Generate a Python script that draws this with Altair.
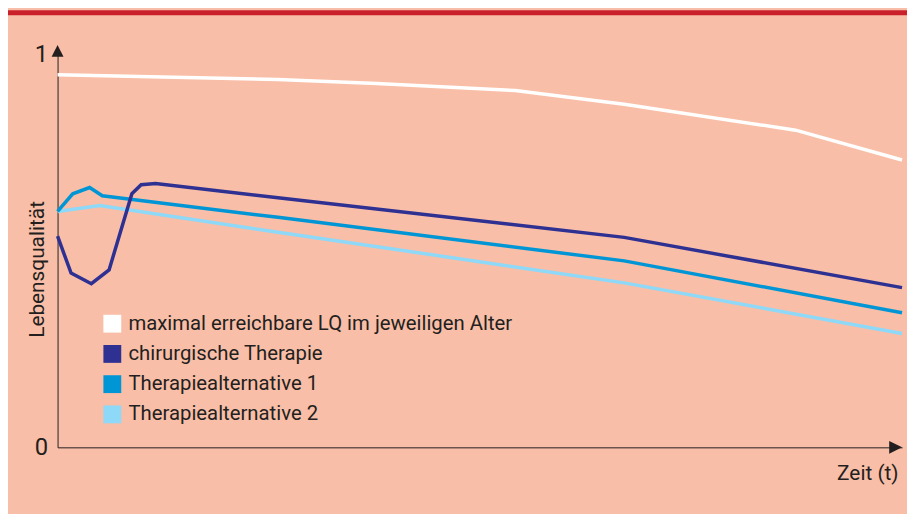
import altair as alt
import pandas as pd

# ---- data ----
series_names = [
    "maximal erreichbare LQ im jeweiligen Alter",
    "chirurgische Therapie",
    "Therapiealternative 1",
    "Therapiealternative 2",
]
series_colors = ["#FFFFFF", "#2E3192", "#0096D6", "#8ED8F8"]

t_white = [0, 26.1, 37.8, 54.2, 67.1, 87.4, 100]
v_white = [0.949, 0.937, 0.927, 0.909, 0.874, 0.808, 0.732]

t_chir = [0, 1.6, 4.0, 6.1, 8.8, 9.9, 11.6, 26.1, 67.1, 100]
v_chir = [0.538, 0.444, 0.417, 0.452, 0.646, 0.669, 0.672, 0.636, 0.535, 0.407]

t_alt1 = [0, 1.8, 3.8, 5.3, 26.1, 67.1, 100]
v_alt1 = [0.601, 0.646, 0.662, 0.641, 0.586, 0.475, 0.343]

t_alt2 = [0, 5.0, 26.1, 67.1, 100]
v_alt2 = [0.601, 0.616, 0.548, 0.419, 0.290]

y_tick_values = [0, 1]
y_title = "Lebensqualität"
x_title = "Zeit (t)"

# arrow heads at the axis ends (data coordinates)
arrow_t = [0, 99.24]
arrow_v = [1.0101, 0]
arrow_shape = ["M0,-1L1,1L-1,1Z", "M1,0L-1,-1L-1,1Z"]
arrow_size = [144, 169]

BG = "#F9BEA7"
RED = "#C9202C"
TEXT = "#231F20"
FONT = "Roboto"
FS = 21

rows = []
for name, ts, vs, z in [
    (series_names[0], t_white, v_white, 0),
    (series_names[3], t_alt2, v_alt2, 1),
    (series_names[2], t_alt1, v_alt1, 2),
    (series_names[1], t_chir, v_chir, 3),
]:
    col = series_colors[series_names.index(name)]
    for t, v in zip(ts, vs):
        rows.append({"serie": name, "t": t, "v": v, "z": z, "col": col})
df = pd.DataFrame(rows)

xscale = alt.Scale(domain=[0, 100], nice=False, zero=False)
yscale = alt.Scale(domain=[0, 1], nice=False)

lines = alt.Chart(df).mark_line(strokeWidth=3.5, strokeCap="butt").encode(
    x=alt.X("t:Q", scale=xscale,
            axis=alt.Axis(labels=False, ticks=False, grid=False, domainColor=TEXT,
                          domainWidth=1, title=x_title, titleX=848, titleY=32,
                          titleAlign="right", titleBaseline="alphabetic",
                          titleFontSize=FS, titleFontWeight="normal", titleFont=FONT,
                          titleColor=TEXT, titleAngle=0)),
    y=alt.Y("v:Q", scale=yscale,
            axis=alt.Axis(values=y_tick_values, ticks=False, grid=False, domainColor=TEXT,
                          domainWidth=1, format="d", labelFontSize=24, labelFont=FONT,
                          labelColor=TEXT, labelPadding=10, title=y_title,
                          titleFontSize=FS, titleFontWeight="normal", titleFont=FONT,
                          titleColor=TEXT, titleX=-14, titleY=216, titleAngle=270,
                          titleAlign="center", titleBaseline="alphabetic")),
    color=alt.Color("col:N", scale=None),
    detail="z:O",
    order="z:Q",
)

# legend source: zero-size squares carrying the series colour scale
legend_df = pd.DataFrame({"serie": series_names, "t": [0] * 4, "v": [0] * 4})
legend_layer = alt.Chart(legend_df).mark_square(size=0, opacity=1).encode(
    x=alt.X("t:Q", scale=xscale),
    y=alt.Y("v:Q", scale=yscale),
    color=alt.Color("serie:N",
                    scale=alt.Scale(domain=series_names, range=series_colors),
                    legend=alt.Legend(title=None, orient="none", legendX=45, legendY=261,
                                      symbolType="square", symbolSize=324,
                                      symbolStrokeWidth=0, symbolOpacity=1,
                                      labelFontSize=20.5, labelFont=FONT, labelColor=TEXT,
                                      labelOffset=6, labelLimit=600, rowPadding=9.5,
                                      padding=0, direction="vertical")),
)

arrows_df = pd.DataFrame({"t": arrow_t, "v": arrow_v, "shape": arrow_shape, "size": arrow_size})
arrows = alt.Chart(arrows_df).mark_point(filled=True, opacity=1, color=TEXT, strokeWidth=0).encode(
    x=alt.X("t:Q", scale=xscale),
    y=alt.Y("v:Q", scale=yscale),
    shape=alt.Shape("shape:N", scale=None),
    size=alt.Size("size:Q", scale=None),
)

bar = alt.Chart(pd.DataFrame({"a": [0]})).mark_rect(color=RED).encode(
    x=alt.value(-50), x2=alt.value(857), y=alt.value(-45), y2=alt.value(-40)
)

chart = alt.layer(bar, lines, legend_layer, arrows).properties(
    width=852, height=396, background=BG,
    padding={"left": 50, "top": 45, "right": 5, "bottom": 65},
    autosize=alt.AutoSizeParams(type="none"),
).configure_view(stroke=None)

chart.save("out.html", embed_options={"renderer": "svg", "actions": False})
